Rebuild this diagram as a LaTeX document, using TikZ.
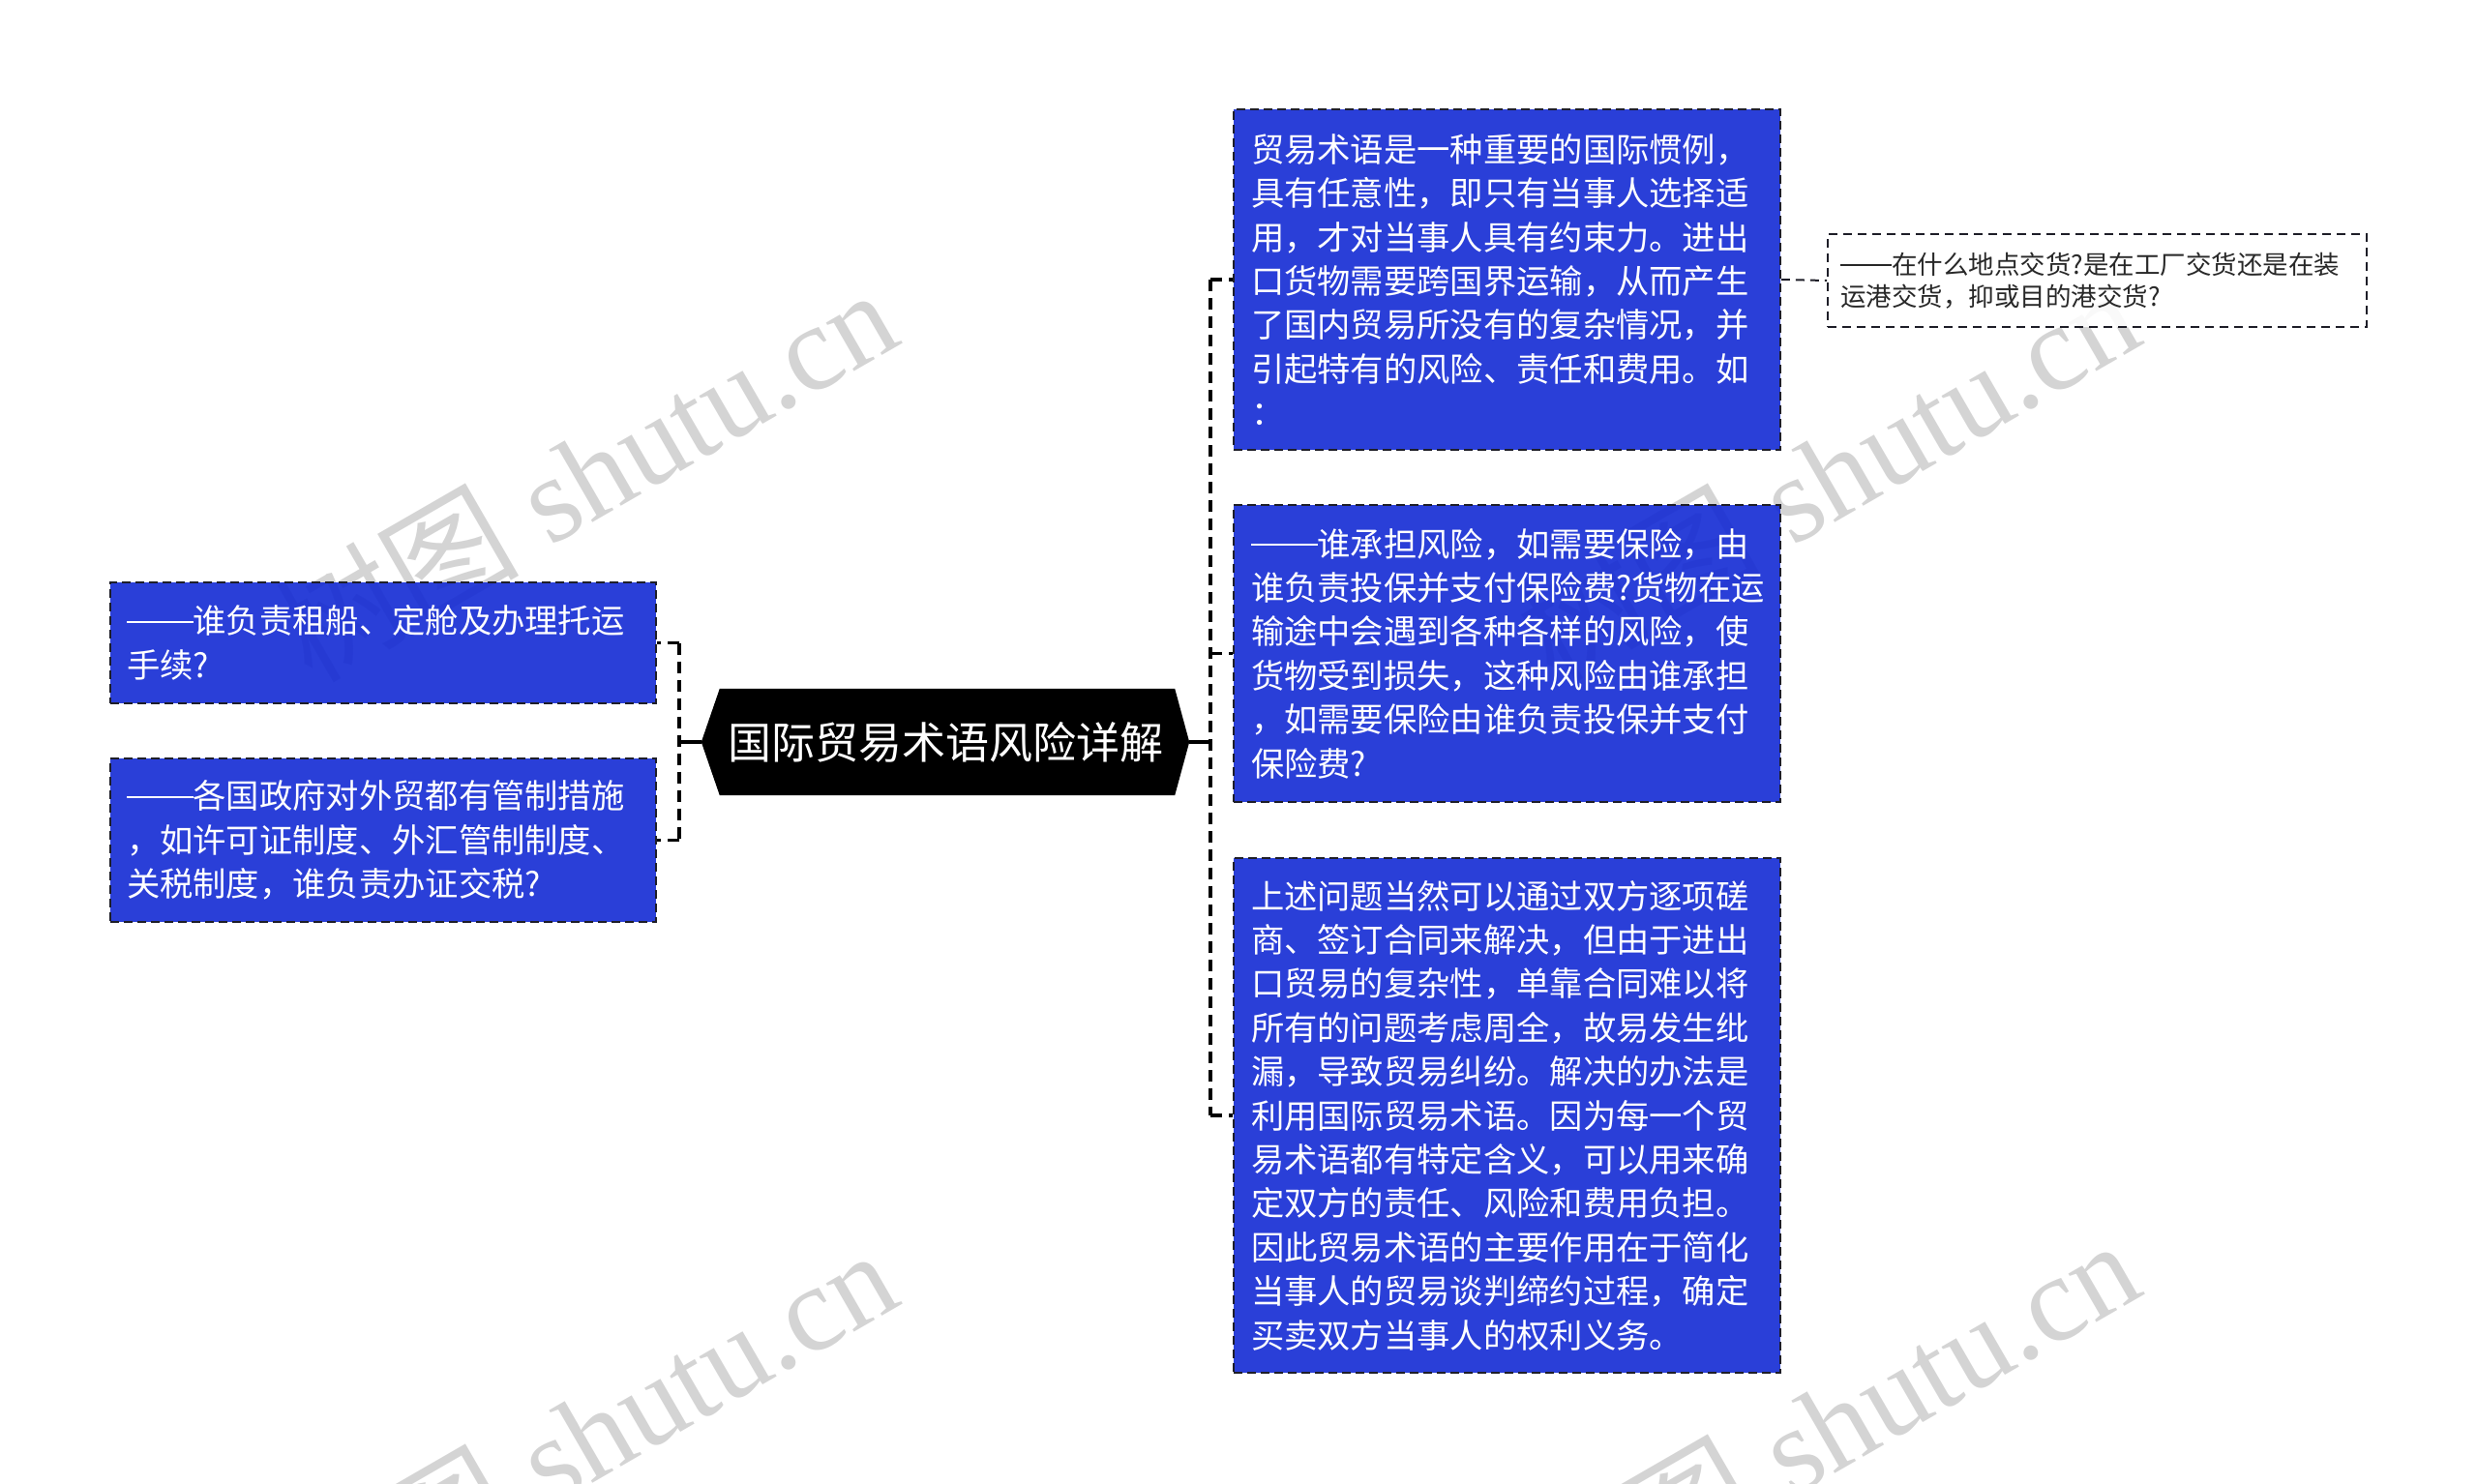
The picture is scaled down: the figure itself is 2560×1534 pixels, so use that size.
\documentclass[tikz,border=0pt]{standalone}
\usepackage{fontspec}
\setmainfont{Noto Sans CJK SC}
\newfontfamily\wmserif{Liberation Serif}
\newfontfamily\wmcjk{Noto Sans CJK SC}
\usetikzlibrary{backgrounds,calc}
\definecolor{boxblue}{RGB}{19,42,212}
\definecolor{boxline}{RGB}{30,30,40}
\definecolor{fartext}{RGB}{40,40,40}
\definecolor{wmgray}{RGB}{170,170,170}
\newcommand\ldash{\rule[0.33em]{2em}{0.055em}}
\begin{document}
\begin{tikzpicture}[x=1pt,y=-1pt,
  bluebox/.style={rectangle, draw=boxline, dash pattern=on 9pt off 5pt, line width=1.8pt,
    fill=boxblue, fill opacity=0.9, text opacity=1, text=white, align=left, inner xsep=18pt, inner ysep=0pt,
    text width=529pt, font=\fontsize{34.3}{45.4}\selectfont},
  leftbox/.style={bluebox, inner xsep=17pt, text width=530pt, minimum width=564pt},
  farbox/.style={rectangle, draw=boxline, dash pattern=on 9pt off 6pt, line width=1.8pt,
    fill=white, fill opacity=0.85, text opacity=1, text=fartext, align=left, inner xsep=13pt, inner ysep=0pt,
    text width=531pt, font=\fontsize{26.5}{32.7}\selectfont},
  centerbox/.style={rectangle, inner sep=0pt, minimum width=504pt, minimum height=110pt,
    text=white, font=\fontsize{45}{50}\selectfont},
  trunk/.style={draw=black, line width=3.4pt, dash pattern=on 12pt off 7pt},
  farlink/.style={draw=boxline, line width=2pt, dash pattern=on 9pt off 6pt},
  solidlink/.style={draw=black, line width=3.4pt},
  wm/.style={rotate=30, anchor=base east, text=wmgray, text opacity=0.5,
    font=\wmserif\fontsize{126}{126}\selectfont}
]
\useasboundingbox (0,0) rectangle (2560,1534);

% watermarks (behind everything)
\node[wm] (wm1) at (938,352) {{\wmcjk 树图} shutu.cn};
\node[wm] (wm2) at (2222,352) {{\wmcjk 树图} shutu.cn};
\node[wm] (wm3) at (938,1345) {{\wmcjk 树图} shutu.cn};
\node[wm] (wm4) at (2222,1335) {{\wmcjk 树图} shutu.cn};

% central topic
\node[centerbox] (c) at (977,767) {国际贸易术语风险详解};
\fill[black] (c.west) -- ($(c.north west)+(19,0)$) -- ($(c.north east)+(-15,0)$) -- (c.east)
    -- ($(c.south east)+(-15,0)$) -- ($(c.south west)+(19,0)$) -- cycle;
\node[centerbox] (ct) at (c.center) {国际贸易术语风险详解};

% right boxes
\node[bluebox, minimum height=352pt] (r1) at (1557.5,289) {贸易术语是一种重要的国际惯例，\\具有任意性，即只有当事人选择适\\用，才对当事人具有约束力。进出\\口货物需要跨国界运输，从而产生\\了国内贸易所没有的复杂情况，并\\引起特有的风险、责任和费用。如\\：};
\node[bluebox, minimum height=307pt] (r2) at (1557.5,675.5) {\ldash 谁承担风险，如需要保险，由\\谁负责投保并支付保险费?货物在运\\输途中会遇到各种各样的风险，使\\货物受到损失，这种风险由谁承担\\，如需要保险由谁负责投保并支付\\保险费?};
\node[bluebox, minimum height=532pt] (r3) at (1557.5,1153) {上述问题当然可以通过双方逐项磋\\商、签订合同来解决，但由于进出\\口贸易的复杂性，单靠合同难以将\\所有的问题考虑周全，故易发生纰\\漏，导致贸易纠纷。解决的办法是\\利用国际贸易术语。因为每一个贸\\易术语都有特定含义，可以用来确\\定双方的责任、风险和费用负担。\\因此贸易术语的主要作用在于简化\\当事人的贸易谈判缔约过程，确定\\买卖双方当事人的权利义务。};

% far right box
\node[farbox, minimum height=96pt] (far) at (2167.5,290) {\ldash 在什么地点交货?是在工厂交货还是在装\\运港交货，抑或目的港交货?};

% left boxes
\node[leftbox, minimum height=125pt] (l1) at (396,664.5) {\ldash 谁负责租船、定舱及办理托运\\手续?};
\node[leftbox, minimum height=169pt] (l2) at (396,868.5) {\ldash 各国政府对外贸都有管制措施\\，如许可证制度、外汇管制制度、\\关税制度，谁负责办证交税?};

% connectors right
\coordinate (rt) at (1251,767);
\draw[solidlink] (c.east) -- (rt);
\draw[trunk] (r1.west -| rt) -- (r3.west -| rt);
\draw[trunk] (r1.west -| rt) -- (r1.west);
\draw[trunk] (r2.west -| rt) -- (r2.west);
\draw[trunk] (r3.west -| rt) -- (r3.west);
\draw[farlink] (r1.east) -- (far.west);

% connectors left
\coordinate (lt) at (702,767);
\draw[solidlink] (c.west) -- (lt);
\draw[trunk] (l1.east -| lt) -- (l2.east -| lt);
\draw[trunk] (l1.east -| lt) -- (l1.east);
\draw[trunk] (l2.east -| lt) -- (l2.east);
\end{tikzpicture}
\end{document}
